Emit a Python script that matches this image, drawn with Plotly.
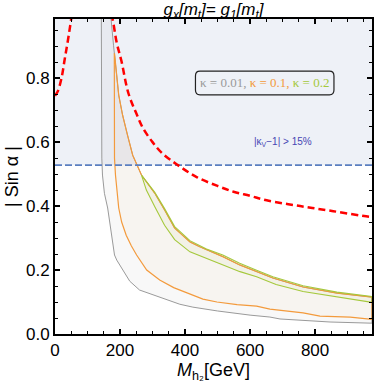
import plotly.graph_objects as go

# limites (lineas rojas a trazos)
red_left_x = [0, 9, 20, 30, 40, 52]
red_left_y = [0.745, 0.76, 0.80, 0.86, 0.92, 1.0]
red_right_x = [172, 177, 190, 204, 226, 250, 270, 300, 330, 378, 437, 500, 549, 600, 651, 754, 856, 969, 980]
red_right_y = [1.0, 0.985, 0.91, 0.855, 0.752, 0.69, 0.645, 0.6, 0.565, 0.528, 0.49, 0.463, 0.445, 0.432,
               0.418, 0.400, 0.384, 0.366, 0.365]

kv_line = 0.528  # |kv-1| > 15%

# borde superior comun (k=0.01 y k=0.1)
up_x = [171, 180, 183, 189, 196, 208, 223, 239, 252, 266, 307, 337, 368, 415, 445, 466, 516, 568, 620, 670,
        763, 867, 969, 975]
up_y = [1.0, 0.903, 0.878, 0.81, 0.747, 0.684, 0.622, 0.559, 0.528, 0.497, 0.44, 0.388, 0.331, 0.288, 0.273,
        0.2625, 0.242, 0.216, 0.195, 0.175, 0.147, 0.128, 0.116, 0.115]

# kappa = 0.01 (gris), borde inferior
k001_x = [142.4, 142.4, 144, 146, 152, 162, 173, 183, 190, 208, 230, 260, 322, 384, 424, 500, 600, 661, 692,
          760, 846, 969, 975]
k001_y = [1.0, 0.6, 0.55, 0.497, 0.44, 0.394, 0.32, 0.247, 0.231, 0.2, 0.165, 0.1375, 0.116, 0.093, 0.084,
          0.072, 0.059, 0.053, 0.047, 0.042, 0.0375, 0.034, 0.034]

# kappa = 0.1 (naranja), borde inferior
k01_x = [182.4, 182.4, 183, 186, 190, 196, 205, 219, 235, 251, 282, 322, 365, 405, 455, 498, 560, 620, 661,
         763, 815, 908, 969, 975]
k01_y = [0.878, 0.6, 0.55, 0.497, 0.45, 0.394, 0.35, 0.309, 0.275, 0.247, 0.2, 0.169, 0.145, 0.128, 0.109,
         0.1, 0.092, 0.087, 0.078, 0.066, 0.056, 0.053, 0.047, 0.046]

# kappa = 0.2 (verde), dos bordes
k02_up_x = [266, 307, 337, 368, 415, 445, 466, 516, 568, 620, 670, 763, 867, 969, 975]
k02_up_y = [0.497, 0.443, 0.392, 0.336, 0.292, 0.278, 0.266, 0.247, 0.221, 0.199, 0.179, 0.151, 0.131,
            0.118, 0.117]
k02_lo_x = [266, 281, 307, 337, 368, 415, 466, 517, 569, 620, 680, 763, 867, 969, 975]
k02_lo_y = [0.497, 0.45, 0.398, 0.34, 0.295, 0.257, 0.236, 0.216, 0.195, 0.179, 0.155, 0.133, 0.115, 0.1,
            0.099]

XMAX = 975
YMAX = 0.985

gris = "#9a9a9a"
naranja = "#f39a3c"
verde = "#a5c83c"

fig = go.Figure()

# region |kv-1| > 15%
fig.add_shape(type="rect", xref="x", yref="y", x0=0, x1=XMAX, y0=kv_line, y1=YMAX,
              fillcolor="#eef1f7", line_width=0, layer="below")

# contorno gris
fig.add_trace(go.Scatter(x=k001_x + up_x[::-1], y=k001_y + up_y[::-1], mode="lines", fill="toself",
                         fillcolor="rgba(140,140,140,0.06)", line=dict(color=gris, width=1), hoverinfo="skip"))
# contorno naranja
up_or_x = [x for x in up_x if x >= 183]
up_or_y = [y for x, y in zip(up_x, up_y) if x >= 183]
fig.add_trace(go.Scatter(x=k01_x + up_or_x[::-1], y=k01_y + up_or_y[::-1], mode="lines", fill="toself",
                         fillcolor="rgba(243,154,60,0.045)", line=dict(color=naranja, width=1.2), hoverinfo="skip"))
# contorno verde
fig.add_trace(go.Scatter(x=k02_up_x + k02_lo_x[::-1], y=k02_up_y + k02_lo_y[::-1], mode="lines", fill="toself",
                         fillcolor="rgba(165,200,60,0.05)", line=dict(color=verde, width=1.1), hoverinfo="skip"))

# linea kv
fig.add_trace(go.Scatter(x=[0, XMAX], y=[kv_line, kv_line], mode="lines",
                         line=dict(color="#5b7fc0", width=1.6, dash="7px,3px"), hoverinfo="skip"))

# lineas rojas
for xs, ys in [(red_left_x, red_left_y), (red_right_x, red_right_y)]:
    fig.add_trace(go.Scatter(x=xs, y=ys, mode="lines", line_shape="spline",
                             line=dict(color="#ff0000", width=2.5, dash="7px,4px"), hoverinfo="skip"))

# caja de leyenda con esquinas redondeadas
bx0, bx1, by0, by1 = 432, 858, 0.748, 0.822
rx, ry = 14, 0.015
path = (f"M {bx0+rx},{by0} L {bx1-rx},{by0} Q {bx1},{by0} {bx1},{by0+ry} L {bx1},{by1-ry} "
        f"Q {bx1},{by1} {bx1-rx},{by1} L {bx0+rx},{by1} Q {bx0},{by1} {bx0},{by1-ry} "
        f"L {bx0},{by0+ry} Q {bx0},{by0} {bx0+rx},{by0} Z")
fig.add_shape(type="path", path=path, xref="x", yref="y", line=dict(color="#222222", width=1.2))
fig.add_annotation(x=(bx0 + bx1) / 2, y=(by0 + by1) / 2, xref="x", yref="y", showarrow=False,
                   text=(f"<span style='color:{gris}'>κ = 0.01,</span> "
                         f"<span style='color:{naranja}'>κ = 0.1,</span> "
                         f"<span style='color:{verde}'>κ = 0.2</span>"),
                   font=dict(family="Liberation Serif", size=13))
fig.add_annotation(x=700, y=0.601, xref="x", yref="y", showarrow=False,
                   text="|κ<sub>V</sub>−1| > 15%", font=dict(family="Liberation Sans", size=10, color="#4646b4"))

eje = dict(showline=True, linecolor="black", linewidth=2, mirror="allticks", ticks="inside",
           ticklen=5, tickwidth=1.5, tickcolor="black", showgrid=False, zeroline=False, automargin=False,
           tickfont=dict(family="Liberation Sans", size=17, color="black"))

fig.update_xaxes(range=[0, XMAX], dtick=200, tick0=0,
                 minor=dict(ticks="inside", ticklen=3, tickwidth=1.2, dtick=50, tickcolor="black"),
                 title=dict(text="<i>M</i><sub>h₂</sub>[GeV]", standoff=4,
                            font=dict(family="Liberation Sans", size=18, color="black")), **eje)
fig.update_yaxes(range=[0, YMAX], dtick=0.2, tick0=0, tickformat=".1f",
                 minor=dict(ticks="inside", ticklen=3, tickwidth=1.2, dtick=0.05, tickcolor="black"),
                 title=dict(text="| Sin α |", standoff=3,
                            font=dict(family="Liberation Sans", size=18, color="black")), **eje)

fig.update_layout(
    width=374, height=390,
    margin=dict(l=55, r=2, t=19, b=56, autoexpand=False),
    paper_bgcolor="white", plot_bgcolor="white",
    showlegend=False,
    title=dict(text="<i>g<sub>x</sub>[m<sub>t</sub>]= g<sub>1</sub>[m<sub>t</sub>]</i>",
               x=0.5, xref="paper", y=0.976, yref="container", yanchor="middle",
               font=dict(family="Liberation Sans", size=17, color="black"), automargin=False),
)

# sin margen del body, para que la figura empiece en (0,0)
fig.write_html("out.html", config={"displayModeBar": False},
               post_script="document.body.style.margin='0px';")
